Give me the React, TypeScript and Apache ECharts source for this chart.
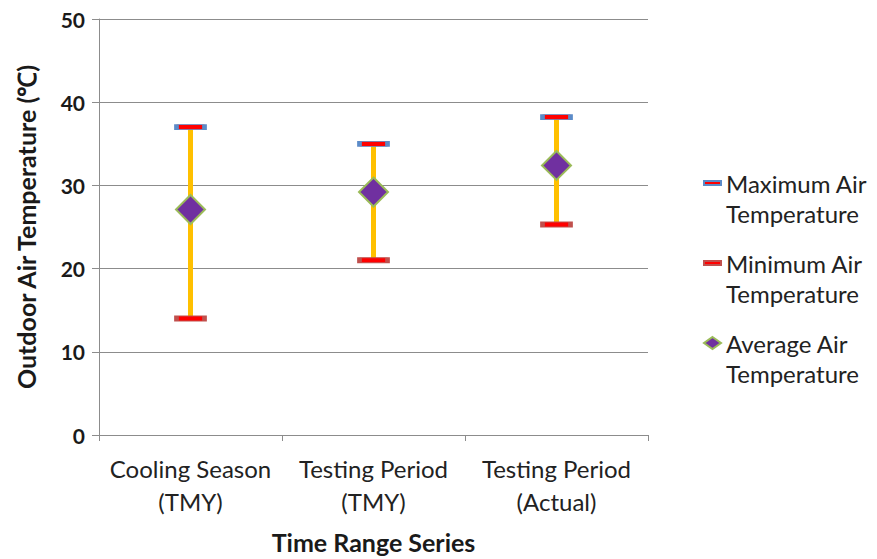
import React, { useEffect, useRef } from "react";
import * as echarts from "echarts";

const categories = ["Cooling Season\n(TMY)", "Testing Period\n(TMY)", "Testing Period\n(Actual)"];
const maxTemp = [37.0, 35.0, 38.2];
const minTemp = [14.0, 21.0, 25.3];
const avgTemp = [27.1, 29.2, 32.4];
const yTicks = { min: 0, max: 50, interval: 10 };

const FONT = "Lato";
const GRAY = "#8c8c8c";

export default function App() {
  const ref = useRef<HTMLDivElement>(null);
  useEffect(() => {
    if (!ref.current) return;
    const chart = echarts.init(ref.current, undefined, { renderer: "svg" });
    const rangeData = categories.map((_, i) => [i, minTemp[i], maxTemp[i]]);
    chart.setOption({
      animation: false,
      textStyle: { fontFamily: FONT },
      grid: { left: 99, right: 229, top: 19, bottom: 118, containLabel: false },
      legend: {
        orient: "vertical",
        left: 703,
        top: 138,
        padding: 0,
        itemGap: -10,
        itemWidth: 17,
        itemHeight: 12,
        symbolKeepAspect: true,
        formatter: (name: string) => "\n" + name.replace(" Air ", " Air\n"),
        textStyle: { fontSize: 24, lineHeight: 30, color: "#222", fontFamily: FONT },
        data: [
          { name: "Maximum Air Temperature", icon: "path://M0,0h17v4h-17z" },
          { name: "Minimum Air Temperature", icon: "path://M0,0h17v4h-17z" },
          { name: "Average Air Temperature", icon: "diamond" },
        ],
      },
      xAxis: {
        type: "category",
        data: categories,
        boundaryGap: true,
        name: "Time Range Series",
        nameLocation: "middle",
        nameGap: 94,
        nameTextStyle: { fontSize: 25, fontWeight: "bold", color: "#1a1a1a", fontFamily: FONT },
        axisLine: { lineStyle: { color: GRAY, width: 1 } },
        axisTick: { show: true, interval: 0, length: 6, lineStyle: { color: GRAY } },
        axisLabel: { interval: 0, fontSize: 24, lineHeight: 33, color: "#222", margin: 17, fontFamily: FONT },
      },
      yAxis: {
        type: "value",
        min: yTicks.min,
        max: yTicks.max,
        interval: yTicks.interval,
        name: "Outdoor Air Temperature (℃)",
        nameLocation: "middle",
        nameGap: 61,
        nameTextStyle: { fontSize: 25, fontWeight: "bold", color: "#1a1a1a", fontFamily: FONT },
        axisLine: { show: true, lineStyle: { color: GRAY, width: 1 } },
        axisTick: { show: true, length: 7, lineStyle: { color: GRAY } },
        axisLabel: { fontSize: 21, fontWeight: "bold", color: "#1a1a1a", margin: 14, fontFamily: FONT },
        splitLine: { show: true, lineStyle: { color: GRAY, width: 1 } },
      },
      series: [
        {
          type: "custom",
          name: "range",
          data: rangeData,
          z: 1,
          encode: { x: 0, y: [1, 2] },
          renderItem: (params: any, api: any) => {
            const i = api.value(0);
            const lo = api.coord([i, api.value(1)]);
            const hi = api.coord([i, api.value(2)]);
            return {
              type: "line",
              shape: { x1: lo[0], y1: lo[1], x2: hi[0], y2: hi[1] },
              style: { stroke: "#FFC000", lineWidth: 5 },
            };
          },
        },
        {
          type: "scatter",
          name: "Maximum Air Temperature",
          data: maxTemp,
          symbol: "rect",
          symbolSize: [28, 5],
          z: 3,
          itemStyle: { color: "#FF0000", borderColor: "#5B8BC8", borderWidth: 2, opacity: 1 },
        },
        {
          type: "scatter",
          name: "Minimum Air Temperature",
          data: minTemp,
          symbol: "rect",
          symbolSize: [28, 5],
          z: 3,
          itemStyle: { color: "#FF0000", borderColor: "#C0504D", borderWidth: 2, opacity: 1 },
        },
        {
          type: "scatter",
          name: "Average Air Temperature",
          data: avgTemp,
          symbol: "diamond",
          symbolSize: 29,
          z: 4,
          itemStyle: { color: "#7030A0", borderColor: "#9BBB59", borderWidth: 2, opacity: 1 },
        },
      ],
    });
    return () => chart.dispose();
  }, []);
  return <div ref={ref} style={{ width: 877, height: 559, position: "absolute", left: 0, top: 0 }} />;
}
